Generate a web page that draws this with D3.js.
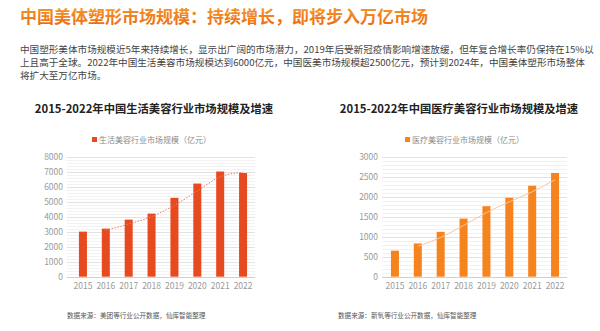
<!DOCTYPE html>
<html><head><meta charset="utf-8">
<script src="https://cdn.jsdelivr.net/npm/d3@7"></script>
<style>body{margin:0;background:#fff;}svg{display:block;font-family:"Noto Sans CJK SC","Noto Sans",sans-serif;}</style>
</head><body>
<svg id="c" width="600" height="331"></svg>
<script>
const years = ["2015","2016","2017","2018","2019","2020","2021","2022"];
const lifeValues = [3000, 3200, 3800, 4200, 5250, 6200, 7000, 6900];
const lifeTrend = [3100, 3500, 4000, 4750, 5700, 6650, 6950]; // 2016-2022
const medValues = [650, 830, 1120, 1450, 1760, 1970, 2270, 2590];
const medTrend = [760, 980, 1280, 1600, 1870, 2120, 2420]; // 2016-2022
const lifeTicks = [0,1000,2000,3000,4000,5000,6000,7000,8000];
const medTicks = [0,500,1000,1500,2000,2500,3000];

const svg = d3.select("#c");
const defs = svg.append("defs");
const g = defs.append("linearGradient").attr("id","tg").attr("x1",0).attr("y1",0).attr("x2",0).attr("y2",1);
g.append("stop").attr("offset","0%").attr("stop-color","#F6A233");
g.append("stop").attr("offset","100%").attr("stop-color","#E9650F");

svg.append("text").attr("x",20).attr("y",23).attr("font-size",17).attr("font-weight","bold")
  .attr("fill","url(#tg)").text("中国美体塑形市场规模：持续增长，即将步入万亿市场");

const body = [
 "中国塑形美体市场规模近5年来持续增长，显示出广阔的市场潜力，2019年后受新冠疫情影响增速放缓，但年复合增长率仍保持在15%以",
 "上且高于全球。2022年中国生活美容市场规模达到6000亿元，中国医美市场规模超2500亿元，预计到2024年，中国美体塑形市场整体",
 "将扩大至万亿市场。"];
body.forEach((t,i)=>{
  svg.append("text").attr("x",20).attr("y",53+i*13).attr("font-size",9.6).attr("fill","#444").text(t);
});

function chart(o){
  const x = d3.scaleBand().domain(years).range(o.xr).paddingInner(0.65).paddingOuter(0.325);
  const y = d3.scaleLinear().domain([0,o.max]).range([276.7,156.5]);
  const G = svg.append("g");
  G.append("text").attr("x",o.cx).attr("y",113).attr("text-anchor","middle").attr("font-size",11.3)
    .attr("font-weight","bold").attr("fill","#222").text(o.title);
  // minor grid
  const minor = d3.range(0,o.max+1e-9,o.max/(o.ticks.length-1)/5);
  G.selectAll(".mn").data(minor).join("line").attr("x1",o.gx[0]).attr("x2",o.gx[1])
    .attr("y1",d=>Math.round(y(d))+0.5).attr("y2",d=>Math.round(y(d))+0.5).attr("stroke","#f2f2f2");
  G.selectAll(".mj").data(o.ticks).join("line").attr("x1",o.gx[0]).attr("x2",o.gx[1])
    .attr("y1",d=>Math.round(y(d))+0.5).attr("y2",d=>Math.round(y(d))+0.5).attr("stroke",d=>d===0?"#d0d0d0":"#e2e2e2");
  // y axis labels
  const ya = d3.axisLeft(y).tickValues(o.ticks).tickFormat(d3.format("d")).tickSize(0).tickPadding(0);
  const yg = G.append("g").attr("transform",`translate(${o.gx[0]-4},0)`).call(ya);
  yg.select(".domain").remove();
  yg.selectAll("text").attr("font-size",8.5).attr("fill","#9a9a9a").attr("font-family","'Noto Sans CJK SC',sans-serif");
  // x axis labels
  const xa = d3.axisBottom(x).tickSize(0).tickPadding(0);
  const xg = G.append("g").attr("transform","translate(0,283)").call(xa);
  xg.select(".domain").remove();
  xg.selectAll("text").attr("font-size",8.5).attr("fill","#9a9a9a").attr("font-family","'Noto Sans CJK SC',sans-serif");
  // bars
  G.selectAll(".b").data(o.values).join("rect").attr("x",(d,i)=>x(years[i])).attr("width",x.bandwidth())
    .attr("y",d=>y(d)).attr("height",d=>y(0)-y(d)).attr("fill",o.color);
  // trend
  const line = d3.line().x((d,i)=>x(years[i+1])+x.bandwidth()/2).y(d=>y(d)).curve(d3.curveMonotoneX);
  G.append("path").attr("d",line(o.trend)).attr("fill","none").attr("stroke",o.tcolor)
    .attr("stroke-width",1).attr("stroke-dasharray",o.dash||null);
  // legend
  G.append("rect").attr("x",o.lx).attr("y",137).attr("width",5).attr("height",5).attr("fill",o.color);
  G.append("text").attr("x",o.lx+7).attr("y",142.5).attr("font-size",8).attr("fill","#8a8a8a").text(o.legend);
  // source
  G.append("text").attr("x",o.sx).attr("y",318).attr("font-size",6.6).attr("fill","#555").text(o.source);
}

chart({xr:[71.5,254.5], gx:[67,255], max:8000, ticks:lifeTicks, values:lifeValues, trend:lifeTrend,
  color:"#E84A1F", tcolor:"#EE7A6A", dash:"1.5,1.5", cx:154, title:"2015-2022年中国生活美容行业市场规模及增速",
  lx:92, legend:"生活美容行业市场规模（亿元）", sx:67, source:"数据来源：美团等行业公开数据，仙库智能整理"});
chart({xr:[383.5,566.5], gx:[382,567], max:3000, ticks:medTicks, values:medValues, trend:medTrend,
  color:"#F5841F", tcolor:"#F9C8A2", cx:459, title:"2015-2022年中国医疗美容行业市场规模及增速",
  lx:405, legend:"医疗美容行业市场规模（亿元）", sx:338, source:"数据来源：新氧等行业公开数据，仙库智能整理"});
</script>
</body></html>
